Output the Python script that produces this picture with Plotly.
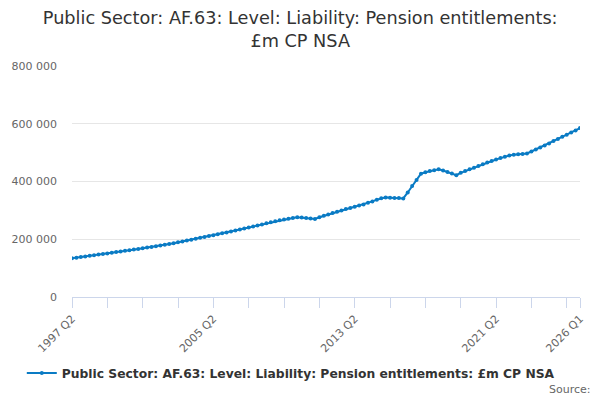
import plotly.graph_objects as go

# quarterly periods 1997 Q2 .. 2026 Q1
start_year = 1997
start_q = 2
n_periods = 116
periods = []
y, q = start_year, start_q
for i in range(n_periods):
    periods.append(f"{y} Q{q}")
    q += 1
    if q > 4:
        q = 1
        y += 1

# £m
liability = [
    134000, 136000, 138500, 140500, 142500, 145000, 147000, 149000,
    151000, 153000, 155500, 157500, 160000, 162000, 164500, 166500,
    169000, 171000, 173500, 176000, 178500, 181000, 183500, 186500,
    189500, 192500, 195500, 198500, 201500, 205000, 208000, 211000,
    214000, 217000, 220500, 223500, 227000, 230500, 234000, 237500,
    241000, 244500, 248000, 251500, 255000, 258500, 262000, 265500,
    268500, 271000, 273500, 276000, 275000, 274000, 272000, 270000,
    276000, 281000, 286000, 291000, 295500, 300000, 304500, 308500,
    312500, 316500, 320500, 326000, 331000, 337000, 342000, 345000,
    344000, 343000, 342500, 341500, 362000, 384000, 405000, 427000,
    432000, 436000, 439000, 442500, 438000, 433000, 428000, 422000,
    430000, 436000, 442000, 448000, 454000, 460000, 466000, 471000,
    476000, 481000, 486000, 490000, 492500, 494000, 495500, 497000,
    504000, 511000, 518000, 525000, 532000, 540000, 547000, 555000,
    562000, 570000, 577000, 585000,
]

labelled = ["1997 Q2", "2005 Q2", "2013 Q2", "2021 Q2", "2026 Q1"]
series_name = "Public Sector: AF.63: Level: Liability: Pension entitlements: £m CP NSA"
title_text = "Public Sector: AF.63: Level: Liability: Pension entitlements:<br>£m CP NSA"

tick_vals = periods[::8] + [periods[-1]]
tick_text = [p if p in labelled else "" for p in tick_vals]

blue = "#0a7bc4"
fig = go.Figure()
fig.add_trace(go.Scatter(
    x=periods, y=liability, name=series_name, mode="lines+markers",
    line=dict(color=blue, width=2), marker=dict(color=blue, size=4),
))

# page body adds 8px offset, so margins are shifted up/left by 8px
fig.update_layout(
    width=600, height=400,
    margin=dict(l=64, r=28, t=58, b=111, autoexpand=False),
    paper_bgcolor="white", plot_bgcolor="white",
    font=dict(family="DejaVu Sans", color="#333333"),
    separators=". ",
    title=dict(text=title_text, x=0.487, xanchor="center", y=0.96, yanchor="top",
               font=dict(size=17.7, color="#333333")),
    showlegend=True,
    legend=dict(orientation="h", xref="container", yref="container",
                x=0.023, xanchor="left", y=0.0875, yanchor="middle",
                font=dict(size=12.3, color="#333333", weight="bold")),
    hovermode="x",
)
fig.update_xaxes(
    type="category", range=[0, n_periods - 1], automargin=False,
    tickmode="array", tickvals=tick_vals, ticktext=tick_text,
    tickangle=-45, ticks="outside", ticklen=10, tickcolor="#ccd6eb",
    showline=True, linecolor="#ccd6eb", linewidth=1, showgrid=False,
    tickfont=dict(size=11, color="#666666"),
)
fig.update_yaxes(
    range=[0, 800000], dtick=200000, tickformat=",d", automargin=False,
    showgrid=True, gridcolor="#e6e6e6", zeroline=False,
    tickfont=dict(size=11, color="#666666"), ticks="", ticklabelstandoff=14,
)
fig.add_annotation(
    text="Source:", xref="paper", yref="paper", x=1.025, y=-0.40,
    xanchor="right", yanchor="middle", showarrow=False,
    font=dict(size=11, color="#666666"),
)

fig.write_html("out.html")
